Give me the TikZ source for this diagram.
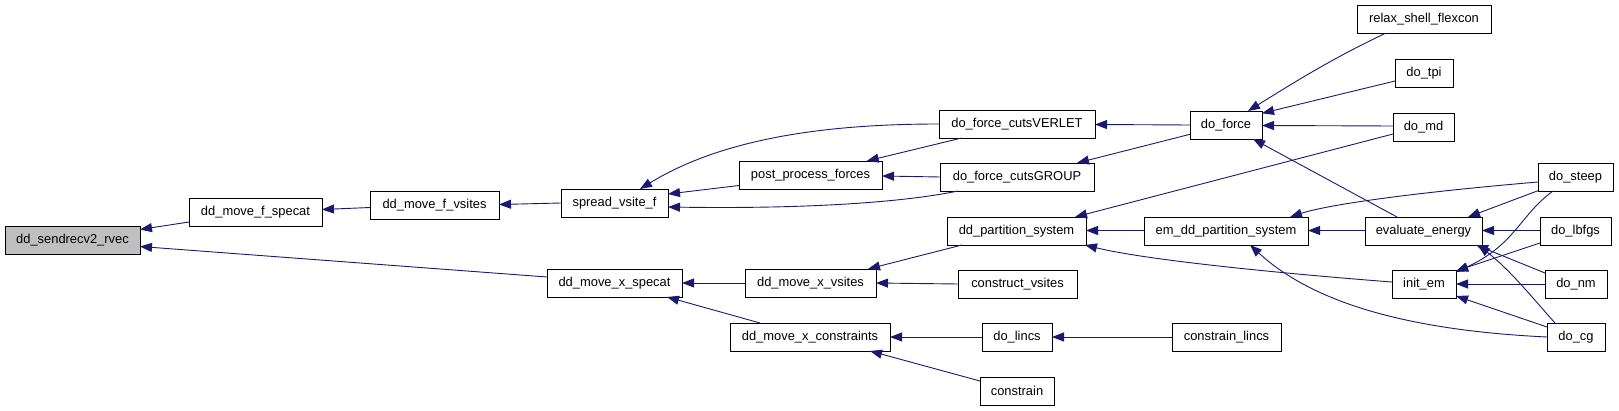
\documentclass[tikz,border=0pt]{standalone}
\usepackage{fontspec}
\setmainfont{Liberation Sans}
\usetikzlibrary{arrows.meta}
\definecolor{edgeblue}{HTML}{191970}
\definecolor{rootgray}{HTML}{BFBFBF}
\begin{document}
\begin{tikzpicture}[x=1pt,y=-1pt,
  fn/.style={draw=black, line width=0.9pt, fill=white, minimum height=28pt, inner sep=0pt,
    font=\fontsize{12.9}{15}\selectfont, anchor=center},
  root/.style={fn, fill=rootgray},
  call/.style={draw=edgeblue, line width=0.9pt, -{Triangle[length=12pt,width=9pt]}}
]
\useasboundingbox (0,0) rectangle (1619,411);
% nodes
\node[root, minimum width=135pt] (sr) at (72.5,240) {dd\_sendrecv2\_rvec};
\node[fn, minimum width=133pt] (mfs) at (255.5,212) {dd\_move\_f\_specat};
\node[fn, minimum width=129pt] (mfv) at (434.5,205) {dd\_move\_f\_vsites};
\node[fn, minimum width=135pt] (mxs) at (614.5,283) {dd\_move\_x\_specat};
\node[fn, minimum width=107pt] (svf) at (614.5,203) {spread\_vsite\_f};
\node[fn, minimum width=143pt] (ppf) at (810.5,175) {post\_process\_forces};
\node[fn, minimum width=131pt] (mxv) at (810.5,283) {dd\_move\_x\_vsites};
\node[fn, minimum width=160pt] (mxc) at (810,337) {dd\_move\_x\_constraints};
\node[fn, minimum width=156pt] (fcv) at (1017,124) {do\_force\_cutsVERLET};
\node[fn, minimum width=154pt] (fcg) at (1017,177) {do\_force\_cutsGROUP};
\node[fn, minimum width=139pt] (dps) at (1016.5,231) {dd\_partition\_system};
\node[fn, minimum width=119pt] (cvs) at (1017.5,284) {construct\_vsites};
\node[fn, minimum width=70pt] (lincs) at (1017,337) {do\_lincs};
\node[fn, minimum width=74pt] (con) at (1017,391) {constrain};
\node[fn, minimum width=72pt] (df) at (1226,125) {do\_force};
\node[fn, minimum width=164pt] (emdd) at (1226,231) {em\_dd\_partition\_system};
\node[fn, minimum width=109pt] (cl) at (1226.5,337) {constrain\_lincs};
\node[fn, minimum width=134pt] (rsf) at (1424,19.5) {relax\_shell\_flexcon};
\node[fn, minimum width=58pt] (tpi) at (1424,73) {do\_tpi};
\node[fn, minimum width=61pt] (md) at (1423.5,127) {do\_md};
\node[fn, minimum width=117pt] (ee) at (1423.5,231) {evaluate\_energy};
\node[fn, minimum width=64pt] (iem) at (1424,284) {init\_em};
\node[fn, minimum width=75pt] (steep) at (1575.5,177) {do\_steep};
\node[fn, minimum width=71pt] (lbfgs) at (1575.5,231) {do\_lbfgs};
\node[fn, minimum width=62pt] (nm) at (1576,284) {do\_nm};
\node[fn, minimum width=58pt] (cg) at (1576,337) {do\_cg};
% edges (caller -> callee, arrow at callee)
\draw[call] ([shift={(-66.5,10)}]mfs.center) -- ([shift={(67.5,-10.5)}]sr.center);
\draw[call] ([shift={(-67.5,-6)}]mxs.center) -- ([shift={(67.5,6.5)}]sr.center);
\draw[call] ([shift={(-64.5,2.5)}]mfv.center) -- ([shift={(66.5,-2.5)}]mfs.center);
\draw[call] ([shift={(-53.5,0)}]svf.center) -- ([shift={(64.5,-0.5)}]mfv.center);
\draw[call] ([shift={(-78,0)}]fcv.center) .. controls +(-119,0) and +(80,-49) .. ([shift={(25.5,-14)}]svf.center);
\draw[call] ([shift={(-71.5,10.5)}]ppf.center) -- ([shift={(53.5,-9)}]svf.center);
\draw[call] ([shift={(-59,14)}]fcg.center) .. controls +(-58,12) and +(132,2) .. ([shift={(53.5,4)}]svf.center);
\draw[call] ([shift={(-55.3,14)}]fcv.center) -- ([shift={(56.2,-14)}]ppf.center);
\draw[call] ([shift={(-77,0)}]fcg.center) -- ([shift={(71.5,1)}]ppf.center);
\draw[call] ([shift={(-36,0)}]df.center) -- ([shift={(78,0.5)}]fcv.center);
\draw[call] ([shift={(-36,9.3)}]df.center) -- ([shift={(60,-14)}]fcg.center);
\draw[call] ([shift={(-39,14)}]rsf.center) .. controls +(-55,26) and +(42,-26) .. ([shift={(22,-14)}]df.center);
\draw[call] ([shift={(-29,8)}]tpi.center) -- ([shift={(36,-11.7)}]df.center);
\draw[call] ([shift={(-30.5,-1)}]md.center) -- ([shift={(36,0.5)}]df.center);
\draw[call] ([shift={(-26.5,-14)}]ee.center) -- ([shift={(27,14)}]df.center);
\draw[call] ([shift={(-30.5,7)}]md.center) -- ([shift={(58.5,-14)}]dps.center);
\draw[call] ([shift={(-82,-0.5)}]emdd.center) -- ([shift={(69.5,-0.5)}]dps.center);
\draw[call] ([shift={(-32,-2)}]iem.center) .. controls +(-92,-7) and +(65,16) .. ([shift={(68.5,14)}]dps.center);
\draw[call] ([shift={(-58.5,-0.5)}]ee.center) -- ([shift={(82,-0.5)}]emdd.center);
\draw[call] ([shift={(-37.5,5)}]steep.center) .. controls +(-118,10) and +(40,-13) .. ([shift={(64,-14)}]emdd.center);
\draw[call] ([shift={(-29,0)}]cg.center) .. controls +(-147,-7) and +(60,55) .. ([shift={(24,14)}]emdd.center);
\draw[call] ([shift={(-37.5,13.7)}]steep.center) -- ([shift={(44.5,-14)}]ee.center);
\draw[call] ([shift={(-35.5,-0.5)}]lbfgs.center) -- ([shift={(58.5,-0.5)}]ee.center);
\draw[call] ([shift={(-31,-11)}]nm.center) -- ([shift={(52.5,14)}]ee.center);
\draw[call] ([shift={(-21,-14)}]cg.center) .. controls +(-25,-28) and +(32,25) .. ([shift={(54.5,14)}]ee.center);
\draw[call] ([shift={(-22.5,14)}]steep.center) .. controls +(-33,24) and +(59,-27) .. ([shift={(32,-12)}]iem.center);
\draw[call] ([shift={(-35.5,12)}]lbfgs.center) -- ([shift={(32,-13)}]iem.center);
\draw[call] ([shift={(-31,0)}]nm.center) -- ([shift={(32,0)}]iem.center);
\draw[call] ([shift={(-29,-10)}]cg.center) -- ([shift={(32,12)}]iem.center);
\draw[call] ([shift={(-65.5,0)}]mxv.center) -- ([shift={(67.5,0)}]mxs.center);
\draw[call] ([shift={(-50,-14)}]mxc.center) -- ([shift={(52.5,14)}]mxs.center);
\draw[call] ([shift={(-54.5,14)}]dps.center) -- ([shift={(57.5,-14)}]mxv.center);
\draw[call] ([shift={(-59.5,0)}]cvs.center) -- ([shift={(65.5,0)}]mxv.center);
\draw[call] ([shift={(-35,0)}]lincs.center) -- ([shift={(80,0)}]mxc.center);
\draw[call] ([shift={(-37,-10)}]con.center) -- ([shift={(60,14)}]mxc.center);
\draw[call] ([shift={(-54.5,0)}]cl.center) -- ([shift={(35,0)}]lincs.center);
\end{tikzpicture}
\end{document}
